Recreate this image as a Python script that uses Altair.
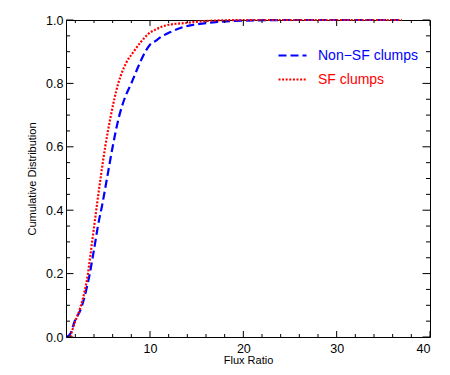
import altair as alt
import pandas as pd

# ---- data ----
nonsf_x = [1.05, 1.5, 1.93, 2.64, 3.14, 3.55, 3.85, 4.14, 4.42, 4.9, 5.39, 6.0, 6.64, 7.25, 8.0, 8.7, 9.5, 10.0, 10.6, 11.1, 12.2, 13.6, 14.7, 17.0, 20.0, 25.0, 37.0]
nonsf_y = [0.0, 0.012, 0.05, 0.092, 0.145, 0.2, 0.25, 0.30, 0.35, 0.42, 0.5, 0.6, 0.69, 0.75, 0.8, 0.85, 0.9, 0.922, 0.934, 0.945, 0.962, 0.978, 0.985, 0.993, 0.998, 1.0, 1.0]

sf_x = [1.45, 2.0, 2.53, 3.0, 3.35, 3.58, 3.8, 4.02, 4.33, 4.7, 5.2, 5.75, 6.6, 7.0, 7.45, 8.25, 9.0, 10.0, 10.6, 12.0, 13.6, 16.0, 20.0, 37.0]
sf_y = [0.0, 0.05, 0.092, 0.145, 0.2, 0.25, 0.3, 0.35, 0.42, 0.5, 0.6, 0.69, 0.8, 0.835, 0.865, 0.9, 0.93, 0.96, 0.97, 0.985, 0.99, 0.997, 1.0, 1.0]

series_names = ["Non\u2212SF clumps", "SF clumps"]
series_colors = ["#0000ff", "#ff0000"]

x_major = [10, 20, 30, 40]
x_minor = [2, 4, 6, 8, 12, 14, 16, 18, 22, 24, 26, 28, 32, 34, 36, 38]
y_major = [0.0, 0.2, 0.4, 0.6, 0.8, 1.0]
y_minor = [0.05, 0.1, 0.15, 0.25, 0.3, 0.35, 0.45, 0.5, 0.55, 0.65, 0.7, 0.75, 0.85, 0.9, 0.95]

# ---- layout ----
W, H = 364, 317
FONT = "Liberation Sans"

df = pd.concat([
    pd.DataFrame({"x": nonsf_x, "y": nonsf_y, "series": series_names[0]}),
    pd.DataFrame({"x": sf_x, "y": sf_y, "series": series_names[1]}),
])

xscale = alt.Scale(domain=[1, 40], nice=False, zero=False)
yscale = alt.Scale(domain=[0, 1], nice=False, zero=False)
xaxis = alt.Axis(values=x_major, title="Flux Ratio", format="d",
                 labelPadding=5, titlePadding=0, grid=False, domain=False, ticks=False)
yaxis = alt.Axis(values=y_major, title="Cumulative Distribution", format=".1f",
                 labelPadding=3, titlePadding=8, grid=False, domain=False, ticks=False)

legend = alt.Legend(
    orient="none", legendX=211, legendY=20, title=None,
    symbolType="stroke", symbolSize=784, symbolStrokeWidth=2.2,
    labelFont=FONT, labelFontSize=14, labelOffset=10, rowPadding=1,
    labelColor={"expr": "datum.label == 'SF clumps' ? '#ff0000' : '#0000ff'"},
)

lines = alt.Chart(df).mark_line(interpolate="monotone", strokeWidth=2.2).encode(
    x=alt.X("x:Q", scale=xscale, axis=xaxis),
    y=alt.Y("y:Q", scale=yscale, axis=yaxis),
    color=alt.Color("series:N", scale=alt.Scale(domain=series_names, range=series_colors), legend=legend),
    strokeDash=alt.StrokeDash("series:N", scale=alt.Scale(domain=series_names, range=[[8, 4], [2, 1.6]]), legend=legend),
)

def xticks(vals, length):
    d = pd.DataFrame({"v": vals})
    bot = alt.Chart(d).mark_rule(color="black", strokeWidth=1).encode(
        x=alt.X("v:Q", scale=xscale, axis=xaxis), y=alt.value(H), y2=alt.value(H - length))
    top = alt.Chart(d).mark_rule(color="black", strokeWidth=1).encode(
        x=alt.X("v:Q", scale=xscale, axis=xaxis), y=alt.value(0), y2=alt.value(length))
    return [bot, top]

def yticks(vals, length):
    d = pd.DataFrame({"v": vals})
    left = alt.Chart(d).mark_rule(color="black", strokeWidth=1).encode(
        y=alt.Y("v:Q", scale=yscale, axis=yaxis), x=alt.value(0), x2=alt.value(length))
    right = alt.Chart(d).mark_rule(color="black", strokeWidth=1).encode(
        y=alt.Y("v:Q", scale=yscale, axis=yaxis), x=alt.value(W), x2=alt.value(W - length))
    return [left, right]

layers = [lines] + xticks(x_major, 6) + xticks(x_minor, 3) + yticks(y_major, 7.5) + yticks(y_minor, 4)

chart = alt.layer(*layers).properties(
    width=W, height=H,
    background="white",
    autosize=alt.AutoSizeParams(type="none"),
    padding={"left": 58, "top": 12, "right": 10, "bottom": 30},
).configure_view(
    stroke="black", strokeWidth=1
).configure_axis(
    domain=False, ticks=False, grid=False,
    labelFont=FONT, labelFontSize=12.5, labelColor="black",
    titleFont=FONT, titleFontSize=11, titleFontWeight="normal", titleColor="black",
)

chart.save("out.html", embed_options={"renderer": "svg", "actions": False})
